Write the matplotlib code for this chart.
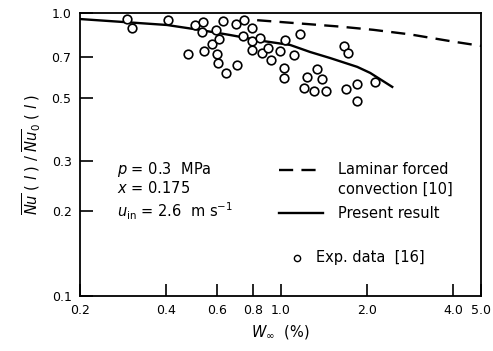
import matplotlib
matplotlib.use("Agg")
import matplotlib.pyplot as plt
from matplotlib.lines import Line2D

# experimental data [16]
exp_w = [0.292, 0.304, 0.405, 0.476, 0.504, 0.537, 0.533, 0.541, 0.577, 0.596,
         0.611, 0.601, 0.606, 0.646, 0.631, 0.700, 0.706, 0.747, 0.741, 0.796,
         0.796, 0.849, 0.796, 0.863, 0.905, 0.927, 0.997, 1.038, 1.115, 1.171,
         1.029, 1.029, 1.238, 1.342, 1.397, 1.209, 1.310, 1.442, 1.667, 1.721,
         1.694, 1.850, 1.850, 2.136]
exp_nu = [0.952, 0.885, 0.945, 0.716, 0.907, 0.929, 0.857, 0.734, 0.777, 0.871,
          0.809, 0.716, 0.666, 0.614, 0.937, 0.914, 0.655, 0.945, 0.829, 0.885,
          0.796, 0.816, 0.740, 0.722, 0.752, 0.682, 0.734, 0.803, 0.711, 0.843,
          0.639, 0.589, 0.594, 0.634, 0.584, 0.543, 0.530, 0.530, 0.765, 0.722,
          0.539, 0.561, 0.489, 0.570]

# present result
present_w = [0.2, 0.402, 0.524, 0.667, 0.869, 1.080, 1.268, 1.489, 1.850, 2.053, 2.45]
present_nu = [0.952, 0.907, 0.871, 0.836, 0.796, 0.771, 0.728, 0.693, 0.645, 0.614, 0.548]

# laminar forced convection [10]
laminar_w = [0.829, 1.238, 1.614, 2.104, 2.83, 4.0, 5.0]
laminar_nu = [0.943, 0.914, 0.895, 0.872, 0.840, 0.792, 0.765]

xticks = [0.2, 0.4, 0.6, 0.8, 1.0, 2.0, 4.0, 5.0]
xticklabels = ["0.2", "0.4", "0.6", "0.8", "1.0", "2.0", "4.0", "5.0"]
yticks = [0.1, 0.2, 0.3, 0.5, 0.7, 1.0]
yticklabels = ["0.1", "0.2", "0.3", "0.5", "0.7", "1.0"]

fig = plt.figure(figsize=(4.93, 3.51), dpi=100)
ax = fig.add_axes([0.162, 0.157, 0.814, 0.806])

ax.plot(laminar_w, laminar_nu, color="black", lw=1.7, ls=(0, (6, 3.5)))
ax.plot(present_w, present_nu, color="black", lw=1.7)
ax.plot(exp_w, exp_nu, ls="none", marker="o", ms=6.2, mfc="white",
        mec="black", mew=1.2)

ax.set_xscale("log")
ax.set_yscale("log")
ax.set_xlim(0.2, 5.0)
ax.set_ylim(0.1, 1.0)
ax.minorticks_off()
ax.set_xticks(xticks)
ax.set_xticklabels(xticklabels)
ax.set_yticks(yticks)
ax.set_yticklabels(yticklabels)
ax.tick_params(direction="in", length=9, width=1.2, labelsize=9, pad=6)
for s in ax.spines.values():
    s.set_linewidth(1.3)

ax.set_xlabel(r"$W_\infty$  (%)", fontsize=10.5, labelpad=4)
ax.set_ylabel(r"$\overline{Nu}$ ( $l$ ) / $\overline{Nu}_0$ ( $l$ )",
              fontsize=10.5, labelpad=6)

# conditions
tr = ax.transAxes
ax.text(0.092, 0.445, r"$p$ = 0.3  MPa", transform=tr, fontsize=10.5, va="center")
ax.text(0.092, 0.382, r"$x$ = 0.175", transform=tr, fontsize=10.5, va="center")
ax.text(0.092, 0.300, r"$u_{\rm in}$ = 2.6  m s$^{-1}$", transform=tr,
        fontsize=10.5, va="center")

# legend drawn by hand
ax.add_line(Line2D([0.496, 0.606], [0.445, 0.445], transform=tr, color="black",
                   lw=1.7, ls=(0, (6, 3.5))))
ax.text(0.643, 0.445, "Laminar forced", transform=tr, fontsize=10.5, va="center")
ax.text(0.643, 0.378, "convection [10]", transform=tr, fontsize=10.5, va="center")
ax.add_line(Line2D([0.496, 0.606], [0.293, 0.293], transform=tr, color="black",
                   lw=1.7))
ax.text(0.643, 0.293, "Present result", transform=tr, fontsize=10.5, va="center")
ax.add_line(Line2D([0.541], [0.134], transform=tr, ls="none", marker="o", ms=4.5,
                   mfc="white", mec="black", mew=1.0))
ax.text(0.589, 0.134, "Exp. data  [16]", transform=tr, fontsize=10.5, va="center")

fig.savefig("out.png", dpi=100)
